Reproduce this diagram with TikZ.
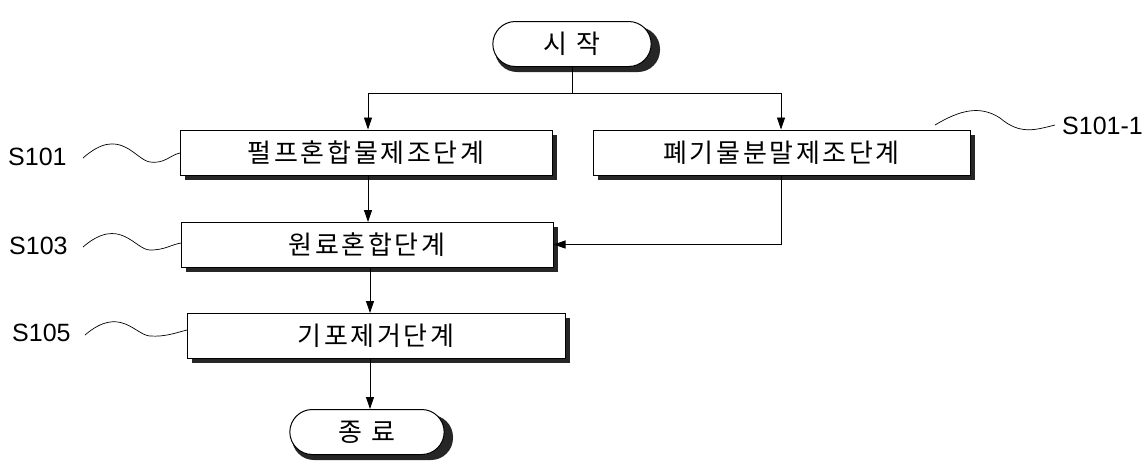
\documentclass[tikz,border=0pt]{standalone}
\usepackage{fontspec}
\setmainfont{Liberation Sans}
\newfontfamily\kr[LetterSpace=10]{Noto Sans CJK KR}
\usetikzlibrary{arrows.meta,shapes.misc}
\begin{document}
\begin{tikzpicture}[x=1pt,y=-1pt,
  box/.style={draw,line width=1pt,fill=white,minimum height=45pt,font=\kr\fontsize{26}{28}\selectfont,inner sep=0pt},
  term/.style={draw,line width=1pt,fill=white,rounded rectangle,minimum height=45pt,font=\kr\fontsize{26}{28}\selectfont},
  arr/.style={-{Triangle[length=12pt,width=8pt]},line width=0.9pt},
  lab/.style={font=\fontsize{25}{28}\selectfont,anchor=west,inner sep=0pt},
  wave/.style={line width=0.7pt}]
\useasboundingbox (0,0) rectangle (1145,467);
\newcommand{\shbox}[6]{% name, x1,y1,x2,y2,text
  \fill[black!85] (#2+5,#3+5) rectangle (#4+5,#5+5);
  \node[box,minimum width=#4-#2,text width=#4-#2-4, align=center] (#1) at ({(#2+#4)/2},{(#3+#5)/2}) {#6};}
\fill[black!85] (495,27) [rounded corners=22pt] rectangle (660,72);
\node[term,minimum width=165pt] (st) at (572,44) {시 작};
\fill[black!85] (292,415) [rounded corners=22pt] rectangle (453,460);
\node[term,minimum width=161pt] (en) at (367,432) {종 료};
\shbox{a}{180}{130}{552}{175}{펄프혼합물제조단계}
\shbox{b}{593}{130}{970}{175}{폐기물분말제조단계}
\shbox{c}{181}{222}{553}{267}{원료혼합단계}
\shbox{d}{187}{313}{565}{358}{기포제거단계}
\coordinate (j) at (572,93);
\draw[line width=0.9pt] (st.south) -- (j);
\draw[arr] (j) -| (a.north -| 368,0);
\draw[arr] (j) -| (b.north -| 781,0);
\draw[arr] (368,175) -- (368,222);
\draw[arr] (781,175) |- (c.east);
\draw[arr] (370,267) -- (370,313);
\draw[arr] (370,358) -- (en.north -| 370,0);
\node[lab] at (8,157) {S101};
\node[lab] at (9,246) {S103};
\node[lab] at (12,333) {S105};
\node[lab,anchor=east] at (1143,126) {S101-1};
\draw[wave] (83,158) .. controls (120,125) and (135,160) .. (150,162) .. controls (165,164) and (170,155) .. (180,153);
\draw[wave] (83,247) .. controls (120,215) and (135,250) .. (150,250) .. controls (165,250) and (170,245) .. (181,243);
\draw[wave] (85,335) .. controls (120,305) and (135,335) .. (150,336) .. controls (165,337) and (175,333) .. (187,330);
\draw[wave] (935,125) .. controls (960,110) and (980,105) .. (1000,118) .. controls (1020,135) and (1035,130) .. (1055,125);
\end{tikzpicture}
\end{document}
